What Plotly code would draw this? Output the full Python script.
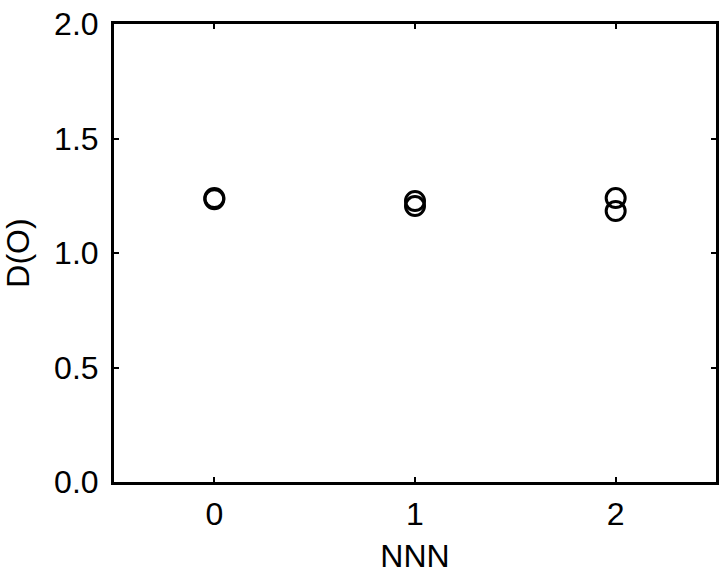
import plotly.graph_objects as go

# NNN category and the D(O) values
nnn = [0, 0, 1, 1, 2, 2]
d_o = [1.235, 1.24, 1.227, 1.205, 1.240, 1.183]

x_ticks = [0, 1, 2]
y_ticks = [0.0, 0.5, 1.0, 1.5, 2.0]
y_labels = ["0.0", "0.5", "1.0", "1.5", "2.0"]

font = dict(family="Liberation Sans, Arial, sans-serif", size=32, color="black")

fig = go.Figure()
fig.add_trace(
    go.Scatter(
        x=nnn,
        y=d_o,
        mode="markers",
        marker=dict(symbol="circle-open", size=19, color="black",
                    line=dict(width=3, color="black")),
        showlegend=False,
    )
)

axis_common = dict(
    showline=True, linecolor="black", linewidth=3, mirror="ticks",
    ticks="inside", ticklen=5, tickwidth=2, tickcolor="black",
    showgrid=False, zeroline=False, tickfont=font, automargin=False,
    ticklabeloverflow="allow",
)

fig.update_xaxes(
    range=[-0.5, 2.5], tickvals=x_ticks, ticklabelstandoff=2,
    title=dict(text="NNN", font=font, standoff=14), **axis_common
)
fig.update_yaxes(
    range=[0, 2.0], tickvals=y_ticks, ticktext=y_labels, ticklabelstandoff=6,
    title=dict(text="D(O)", font=font, standoff=18), **axis_common
)

fig.update_layout(
    width=722, height=584,
    margin=dict(l=114, r=6, t=24, b=102),
    plot_bgcolor="white", paper_bgcolor="white",
    font=font,
)

# drop the default body margin so the figure fills the window exactly
fig.write_html(
    "out.html",
    config={"displayModeBar": False},
    post_script="document.body.style.margin='0';document.body.style.overflow='hidden';",
)
